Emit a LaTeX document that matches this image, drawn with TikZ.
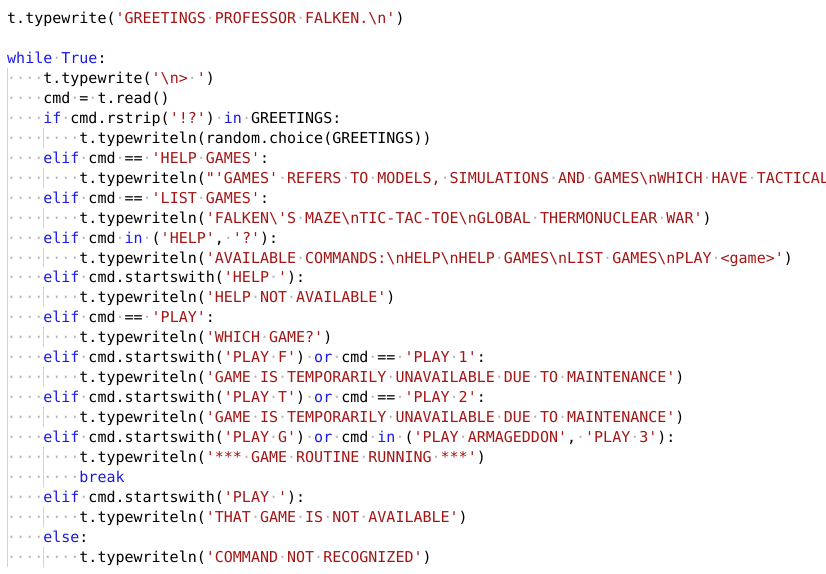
\documentclass[tikz,border=0pt]{standalone}
\usepackage{fontspec}
\setmonofont{DejaVu Sans Mono}
\usepackage{xcolor}
\definecolor{kw}{HTML}{1A1AE6}
\definecolor{st}{HTML}{A31515}
\definecolor{dt}{HTML}{B4B4B4}
\definecolor{gd}{HTML}{D2D2D2}
\newcommand{\K}[1]{\textcolor{kw}{#1}}
\newcommand{\Sx}[1]{\textcolor{st}{#1}}
\newcommand{\D}{\textcolor{dt}{·}}
\newcommand{\BS}{\textbackslash}
\newcommand{\Q}{\char39\relax}
\tikzset{codeline/.style={anchor=base west,inner sep=0pt,font=\ttfamily\fontsize{15}{15}\selectfont,text=black},
guide/.style={draw=gd,line width=0.8pt}}
\newcommand{\Ln}[2]{\node[codeline] (r#1) at (7,{-(23.5+#1*19.96)}) {#2};}
\newcommand{\G}[3]{\draw[guide] ({7+#1*9.03},{-(8+#2*19.96)}) -- ({7+#1*9.03},{-(8+(#3+1)*19.96)});}
\begin{document}
\begin{tikzpicture}[x=1pt,y=1pt]
\useasboundingbox (0,0) rectangle (826,-573);
\clip (0,0) rectangle (826,-573);
\Ln{0}{t.typewrite(\Sx{\Q GREETINGS\D PROFESSOR\D FALKEN.\BS n\Q})}
\Ln{2}{\K{while}\D\K{True}:}
\Ln{3}{\D\D\D\D t.typewrite(\Sx{\Q\BS n>\D\Q})}
\Ln{4}{\D\D\D\D cmd\D=\D t.read()}
\Ln{5}{\D\D\D\D\K{if}\D cmd.rstrip(\Sx{\Q!?\Q})\D\K{in}\D GREETINGS:}
\Ln{6}{\D\D\D\D\D\D\D\D t.typewriteln(random.choice(GREETINGS))}
\Ln{7}{\D\D\D\D\K{elif}\D cmd\D==\D\Sx{\Q HELP\D GAMES\Q}:}
\Ln{8}{\D\D\D\D\D\D\D\D t.typewriteln(\Sx{"\Q GAMES\Q\D REFERS\D TO\D MODELS,\D SIMULATIONS\D AND\D GAMES\BS nWHICH\D HAVE\D TACTICAL\D AND\D STRATEGIC}}
\Ln{9}{\D\D\D\D\K{elif}\D cmd\D==\D\Sx{\Q LIST\D GAMES\Q}:}
\Ln{10}{\D\D\D\D\D\D\D\D t.typewriteln(\Sx{\Q FALKEN\BS\Q S\D MAZE\BS nTIC-TAC-TOE\BS nGLOBAL\D THERMONUCLEAR\D WAR\Q})}
\Ln{11}{\D\D\D\D\K{elif}\D cmd\D\K{in}\D(\Sx{\Q HELP\Q},\D\Sx{\Q?\Q}):}
\Ln{12}{\D\D\D\D\D\D\D\D t.typewriteln(\Sx{\Q AVAILABLE\D COMMANDS:\BS nHELP\BS nHELP\D GAMES\BS nLIST\D GAMES\BS nPLAY\D<game>\Q})}
\Ln{13}{\D\D\D\D\K{elif}\D cmd.startswith(\Sx{\Q HELP\D\Q}):}
\Ln{14}{\D\D\D\D\D\D\D\D t.typewriteln(\Sx{\Q HELP\D NOT\D AVAILABLE\Q})}
\Ln{15}{\D\D\D\D\K{elif}\D cmd\D==\D\Sx{\Q PLAY\Q}:}
\Ln{16}{\D\D\D\D\D\D\D\D t.typewriteln(\Sx{\Q WHICH\D GAME?\Q})}
\Ln{17}{\D\D\D\D\K{elif}\D cmd.startswith(\Sx{\Q PLAY\D F\Q})\D\K{or}\D cmd\D==\D\Sx{\Q PLAY\D 1\Q}:}
\Ln{18}{\D\D\D\D\D\D\D\D t.typewriteln(\Sx{\Q GAME\D IS\D TEMPORARILY\D UNAVAILABLE\D DUE\D TO\D MAINTENANCE\Q})}
\Ln{19}{\D\D\D\D\K{elif}\D cmd.startswith(\Sx{\Q PLAY\D T\Q})\D\K{or}\D cmd\D==\D\Sx{\Q PLAY\D 2\Q}:}
\Ln{20}{\D\D\D\D\D\D\D\D t.typewriteln(\Sx{\Q GAME\D IS\D TEMPORARILY\D UNAVAILABLE\D DUE\D TO\D MAINTENANCE\Q})}
\Ln{21}{\D\D\D\D\K{elif}\D cmd.startswith(\Sx{\Q PLAY\D G\Q})\D\K{or}\D cmd\D\K{in}\D(\Sx{\Q PLAY\D ARMAGEDDON\Q},\D\Sx{\Q PLAY\D 3\Q}):}
\Ln{22}{\D\D\D\D\D\D\D\D t.typewriteln(\Sx{\Q***\D GAME\D ROUTINE\D RUNNING\D***\Q})}
\Ln{23}{\D\D\D\D\D\D\D\D\K{break}}
\Ln{24}{\D\D\D\D\K{elif}\D cmd.startswith(\Sx{\Q PLAY\D\Q}):}
\Ln{25}{\D\D\D\D\D\D\D\D t.typewriteln(\Sx{\Q THAT\D GAME\D IS\D NOT\D AVAILABLE\Q})}
\Ln{26}{\D\D\D\D\K{else}:}
\Ln{27}{\D\D\D\D\D\D\D\D t.typewriteln(\Sx{\Q COMMAND\D NOT\D RECOGNIZED\Q})}
\G{0}{3}{27}
\G{4}{6}{6}\G{4}{8}{8}\G{4}{10}{10}\G{4}{12}{12}\G{4}{14}{14}\G{4}{16}{16}
\G{4}{18}{18}\G{4}{20}{20}\G{4}{22}{23}\G{4}{25}{25}\G{4}{27}{27}
\end{tikzpicture}
\end{document}
